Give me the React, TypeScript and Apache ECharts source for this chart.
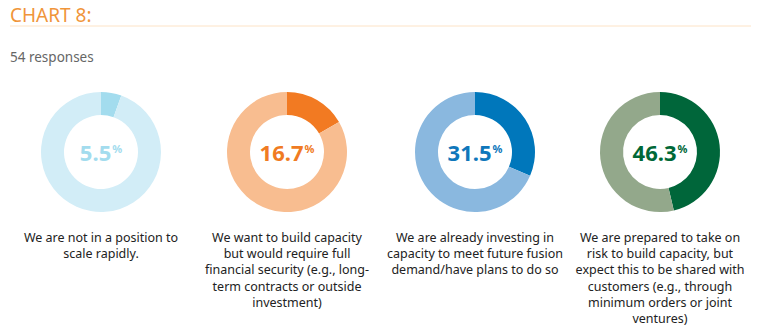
import React, { useEffect, useRef } from "react";
import * as echarts from "echarts";

const titleText = "CHART 8:";
const subtitleText = "54 responses";
const percentages = [5.5, 16.7, 31.5, 46.3];
const descriptions = [
  ["We are not in a position to", "scale rapidly."],
  ["We want to build capacity", "but would require full", "financial security (e.g., long-", "term contracts or outside", "investment)"],
  ["We are already investing in", "capacity to meet future fusion", "demand/have plans to do so"],
  ["We are prepared to take on", "risk to build capacity, but", "expect this to be shared with", "customers (e.g., through", "minimum orders or joint", "ventures)"],
];
const mainColors = ["#a3dcee", "#f27a22", "#0077bb", "#00663a"];
const restColors = ["#d2edf7", "#f8bd90", "#8ab8df", "#93a88b"];
const textColors = ["#a3dcee", "#f07b22", "#0f77bb", "#006837"];

const centersX = [101, 287, 475, 660];
const centerY = 152;

export default function App() {
  const ref = useRef<HTMLDivElement>(null);
  useEffect(() => {
    document.body.style.margin = "0";
    const chart = echarts.init(ref.current!, null, { renderer: "svg" });
    const font = "'Noto Sans', 'Open Sans', sans-serif";
    const series: any[] = percentages.map((p, i) => ({
      type: "pie",
      center: [centersX[i], centerY],
      radius: [37, 60],
      startAngle: 90,
      clockwise: true,
      silent: true,
      avoidLabelOverlap: false,
      labelLine: { show: false },
      emphasis: { disabled: true },
      data: [
        {
          value: p,
          itemStyle: { color: mainColors[i] },
          label: {
            show: true,
            position: "center",
            formatter: `{a|${p.toFixed(1)}}{b|%}`,
            rich: {
              a: { fontFamily: font, fontWeight: "bold", fontSize: 22, color: textColors[i], lineHeight: 24, verticalAlign: "middle" },
              b: { fontFamily: font, fontWeight: "bold", fontSize: 11, color: textColors[i], lineHeight: 12, verticalAlign: "top", padding: [3, 0, 0, 1] },
            },
          },
        },
        {
          value: 100 - p,
          itemStyle: { color: restColors[i] },
          label: { show: false },
        },
      ],
    }));
    const graphics: any[] = [
      {
        type: "text",
        left: 10,
        top: 5,
        style: { text: titleText, fill: "#f0953a", font: `400 19px ${font}` },
      },
      {
        type: "line",
        shape: { x1: 10, y1: 26, x2: 751, y2: 26 },
        style: { stroke: "#fde3c6", lineWidth: 1 },
      },
      {
        type: "text",
        left: 10,
        top: 50,
        style: { text: subtitleText, fill: "#666666", font: `400 13.5px ${font}` },
      },
    ];
    descriptions.forEach((lines, i) => {
      graphics.push({
        type: "text",
        x: centersX[i],
        y: 229,
        style: {
          text: lines.join("\n"),
          fill: "#222222",
          font: `400 12.5px ${font}`,
          lineHeight: 16.3,
          align: "center",
          verticalAlign: "top",
        },
      });
    });
    chart.setOption({
      animation: false,
      series,
      graphic: graphics,
    });
    return () => chart.dispose();
  }, []);
  return <div ref={ref} style={{ width: 765, height: 333 }} />;
}
